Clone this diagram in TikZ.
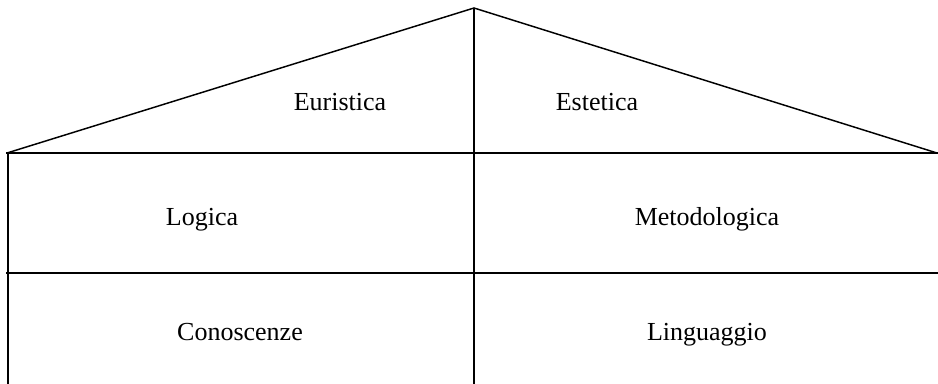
\documentclass[tikz,border=0pt]{standalone}
\usepackage{fontspec}
\setmainfont{Liberation Serif}
\begin{document}
\begin{tikzpicture}[x=0.75pt,y=-0.75pt,
  wall/.style={line width=1.6pt,line cap=rect},
  roof/.style={line width=1.1pt},
  lbl/.style={font=\fontsize{19.5}{22}\selectfont,inner sep=0pt,anchor=base}]
\useasboundingbox (0,0) rectangle (938,384);
\coordinate (apex) at (474,8);
\coordinate (rl) at (7,153);
\coordinate (rr) at (937,153);
\coordinate (ml) at (7,273);
\coordinate (mr) at (937,273);
\coordinate (tl) at (8,153);
\coordinate (bl) at (8,384);
\coordinate (bc) at (474,384);
\draw[roof] (rl) -- (apex) -- (rr);
\draw[wall] (rl) -- (rr);
\draw[wall] (ml) -- (mr);
\draw[line width=1.6pt] (tl) -- (bl);
\draw[line width=1.6pt] (apex) -- (bc);
\node[lbl] (eur) at (340,111) {Euristica};
\node[lbl] (est) at (597,111) {Estetica};
\node[lbl] (log) at (202,226) {Logica};
\node[lbl] (met) at (707,226) {Metodologica};
\node[lbl] (con) at (240,340) {Conoscenze};
\node[lbl] (lin) at (707,340) {Linguaggio};
\end{tikzpicture}
\end{document}
